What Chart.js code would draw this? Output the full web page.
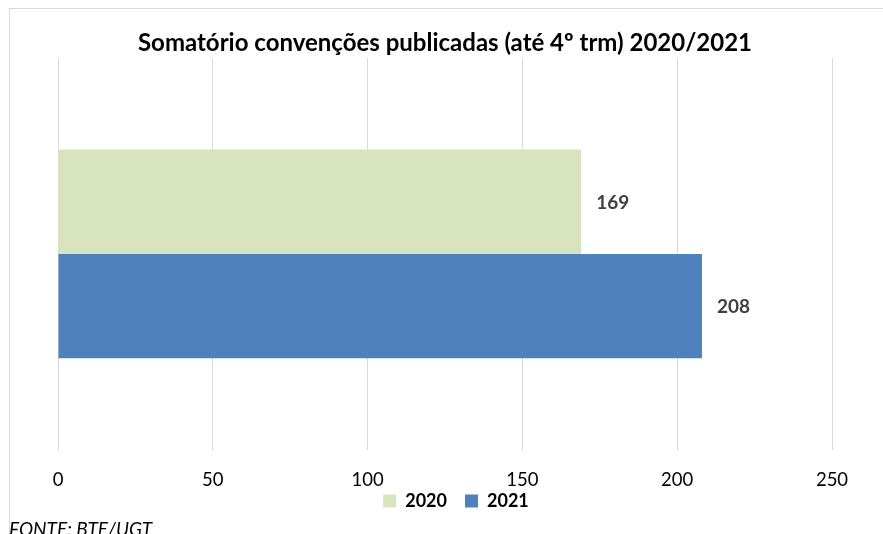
<!DOCTYPE html>
<html>
<head>
<meta charset="utf-8">
<script src="https://cdn.jsdelivr.net/npm/chart.js@4"></script>
<style>
  html, body { margin: 0; padding: 0; background: #fff; overflow: hidden; }
  #wrap { position: relative; width: 883px; height: 534px; }
  #frame { position: absolute; left: 9px; top: 8px; width: 900px; height: 600px; border-top: 1px solid #d9d9d9; border-left: 1px solid #d9d9d9; }
  #chart_canvas { position: absolute; left: 0; top: 0; }
  #fonte { position: absolute; left: 9px; top: 519px; font: italic 19px Lato, sans-serif; color: #000; line-height: 20px; white-space: nowrap; }
</style>
</head>
<body>
<div id="wrap">
  <div id="frame"></div>
  <canvas id="chart_canvas" width="883" height="534"></canvas>
  <div id="fonte">FONTE: BTE/UGT</div>
</div>
<script>
// chart data
const categories = ['Convenções publicadas'];
const seriesNames = ['2020', '2021'];
const values2020 = [169];
const values2021 = [208];
const tickValues = [0, 50, 100, 150, 200, 250];

// draw value labels at the end of each bar
const barLabels = {
    id: 'barLabels',
    afterDatasetsDraw(chart) {
        const ctx = chart.ctx;
        ctx.save();
        ctx.font = 'bold 19px Lato, sans-serif';
        ctx.fillStyle = '#404040';
        ctx.textBaseline = 'middle';
        ctx.textAlign = 'left';
        chart.data.datasets.forEach((ds, i) => {
            chart.getDatasetMeta(i).data.forEach((bar, j) => {
                ctx.fillText(ds.data[j], bar.x + 15, bar.y + 1);
            });
        });
        ctx.restore();
    }
};

// the x axis reserves less room so the legend sits close under it;
// give the tick labels their full box back and nudge the legend right
const layoutFix = {
    id: 'layoutFix',
    afterLayout(chart) {
        const x = chart.scales.x;
        x.bottom = x.top + 45;
        chart.legend.left += 11;
        chart.legend.right += 11;
    }
};

const ctx = document.getElementById('chart_canvas').getContext('2d');
new Chart(ctx, {
    type: 'bar',
    data: {
        labels: categories,
        datasets: [
            { label: seriesNames[0], data: values2020, backgroundColor: '#d7e4bd' },
            { label: seriesNames[1], data: values2021, backgroundColor: '#4f81bd' }
        ]
    },
    options: {
        indexAxis: 'y',
        responsive: false,
        animation: false,
        events: [],
        categoryPercentage: 0.532,
        barPercentage: 1,
        layout: { padding: { left: 58, right: 51, top: 0, bottom: 14 } },
        scales: {
            x: {
                min: 0,
                max: 250,
                afterBuildTicks: (axis) => { axis.ticks = tickValues.map(v => ({ value: v })); },
                afterFit: (axis) => { axis.height = 24; },
                grid: { color: '#d9d9d9', lineWidth: 1, drawTicks: false },
                border: { display: false },
                ticks: { color: '#000', font: { family: 'Lato', size: 18.5 }, padding: 19 }
            },
            y: { display: false }
        },
        plugins: {
            title: {
                display: true,
                text: 'Somatório convenções publicadas (até 4º trm) 2020/2021',
                color: '#000',
                font: { family: 'Lato', size: 24, weight: 'bold' },
                padding: { top: 29, bottom: 0 }
            },
            legend: {
                position: 'bottom',
                labels: {
                    color: '#000',
                    font: { family: 'Lato', size: 18, weight: 'bold' },
                    boxWidth: 13,
                    boxHeight: 13,
                    padding: 18
                }
            },
            tooltip: { enabled: false }
        }
    },
    plugins: [barLabels, layoutFix]
});
</script>
</body>
</html>
